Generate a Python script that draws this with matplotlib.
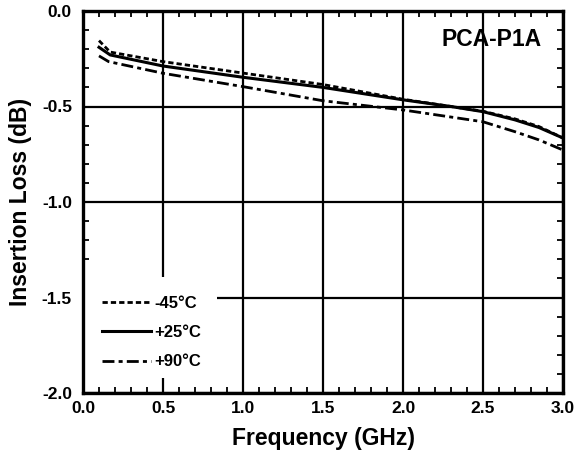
import matplotlib
matplotlib.use("Agg")
import matplotlib.pyplot as plt
from matplotlib.ticker import MultipleLocator, FormatStrFormatter
from matplotlib.patches import Rectangle

plt.rcParams['font.family'] = ['Liberation Sans', 'DejaVu Sans']
plt.rcParams['font.weight'] = 'bold'
plt.rcParams['lines.scale_dashes'] = False

freq_m45 = [0.10, 0.17, 0.5, 1.0, 1.5, 2.0, 2.3, 2.5, 2.7, 2.85, 3.0]
loss_m45 = [-0.155, -0.215, -0.265, -0.325, -0.385, -0.462, -0.50, -0.525, -0.565, -0.605, -0.665]

freq_p25 = [0.10, 0.17, 0.5, 1.0, 1.5, 2.0, 2.3, 2.5, 2.7, 2.85, 3.0]
loss_p25 = [-0.19, -0.23, -0.288, -0.347, -0.40, -0.465, -0.50, -0.527, -0.57, -0.61, -0.665]

freq_p90 = [0.10, 0.16, 0.5, 1.0, 1.5, 2.0, 2.5, 2.7, 2.85, 3.0]
loss_p90 = [-0.235, -0.265, -0.326, -0.396, -0.47, -0.518, -0.58, -0.632, -0.675, -0.728]

labels = ['-45°C', '+25°C', '+90°C']

fig = plt.figure(figsize=(5.77, 4.59), dpi=100)
ax = fig.add_axes([83/577, 1 - 393/459, (563-83)/577, (393-11)/459])

ax.plot(freq_m45, loss_m45, color='black', lw=2.0, linestyle=(0, (3.8, 2.2)), label=labels[0])
ax.plot(freq_p25, loss_p25, color='black', lw=2.2, linestyle='-', label=labels[1])
ax.plot(freq_p90, loss_p90, color='black', lw=2.0, linestyle=(0, (8.6, 3.0, 2.9, 3.0)), label=labels[2])

ax.set_xlim(0, 3.0)
ax.set_ylim(-2.0, 0.0)
ax.xaxis.set_major_locator(MultipleLocator(0.5))
ax.xaxis.set_minor_locator(MultipleLocator(0.1))
ax.yaxis.set_major_locator(MultipleLocator(0.5))
ax.yaxis.set_minor_locator(MultipleLocator(0.1))
ax.xaxis.set_major_formatter(FormatStrFormatter('%.1f'))
ax.yaxis.set_major_formatter(FormatStrFormatter('%.1f'))
ax.tick_params(which='both', direction='in', top=True, right=True, width=1.3, labelsize=12.5)
ax.tick_params(which='major', length=0)
ax.tick_params(axis='y', which='major', pad=8)
ax.tick_params(axis='x', which='major', pad=6)
ax.tick_params(which='minor', length=4)
ax.grid(True, which='major', color='black', lw=1.6)
for s in ax.spines.values():
    s.set_linewidth(2.4)

ax.set_xlabel('Frequency (GHz)', fontsize=16.5, fontweight='bold', labelpad=8)
ax.set_ylabel('Insertion Loss (dB)', fontsize=16.5, fontweight='bold', labelpad=7)

ax.text(0.955, 0.925, 'PCA-P1A', transform=ax.transAxes, ha='right', va='center',
        fontsize=16.5, fontweight='bold')

# white backing behind the legend (hides the grid)
ax.add_patch(Rectangle((0, (393-378)/382), (217-83)/480, (378-277)/382, transform=ax.transAxes,
                       facecolor='white', edgecolor='none', zorder=2.5))

leg = ax.legend(loc='upper left', bbox_to_anchor=(19/480, (393-296)/382), frameon=False,
                fontsize=12, handlelength=2.95, borderaxespad=0.0, borderpad=0.0,
                labelspacing=0.85, handletextpad=0.2)
leg.set_zorder(5)

fig.savefig('out.png', dpi=100)
